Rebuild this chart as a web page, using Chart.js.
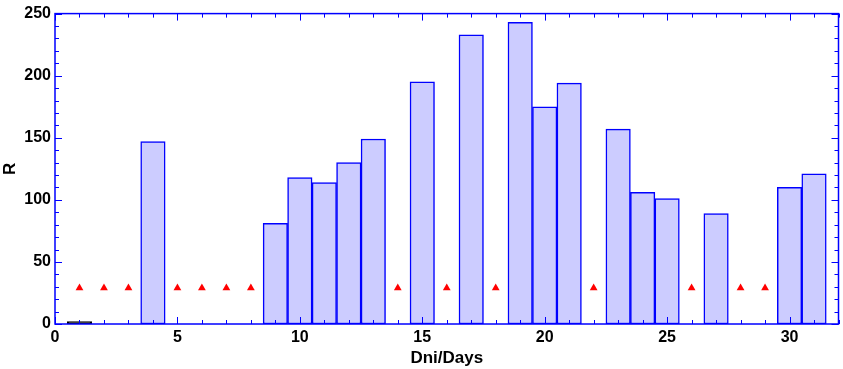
<!DOCTYPE html>
<html>
<head>
<meta charset="utf-8">
<script src="https://cdn.jsdelivr.net/npm/chart.js@4.4.1/dist/chart.umd.min.js"></script>
<style>
  html, body { margin: 0; padding: 0; background: #fff; }
  #wrap { width: 843px; height: 369px; }
</style>
</head>
<body>
<div id="wrap"><canvas id="myChart" width="843" height="369"></canvas></div>
<script>
// data
const days = [1, 2, 3, 4, 5, 6, 7, 8, 9, 10, 11, 12, 13, 14, 15, 16,
  17, 18, 19, 20, 21, 22, 23, 24, 25, 26, 27, 28, 29, 30, 31];
const rValues = [2, null, null, 147, null, null, null, null, 81, 118, 114, 130, 149, null, 195, null,
  233, null, 243, 175, 194, null, 157, 106, 101, null, 89, null, null, 110, 121];
const markerDays = [1, 2, 3, 5, 6, 7, 8, 14, 16, 18, 22, 26, 28, 29];
const markerLevel = 29;
const xTicks = [0, 5, 10, 15, 20, 25, 30];
const yTicks = [0, 50, 100, 150, 200, 250];

const ctx = document.getElementById('myChart');
const blue = '#0000ff';

const barData = [];
days.forEach((d, i) => {
    if (rValues[i] !== null) barData.push({ x: d, y: rValues[i] });
});
const markerData = markerDays.map(d => ({ x: d, y: markerLevel }));

// frame + inside ticks
const frameTicks = {
    id: 'frameTicks',
    afterDraw(chart) {
        const c = chart.ctx;
        const a = chart.chartArea;
        const xs = chart.scales.x, ys = chart.scales.y;
        c.save();
        c.strokeStyle = blue;
        c.lineWidth = 1;
        for (let v = 0; v <= 32; v++) {
            const px = Math.round(xs.getPixelForValue(v)) + 0.5;
            const len = v % 5 === 0 ? 7 : 4;
            c.beginPath();
            c.moveTo(px, a.bottom); c.lineTo(px, a.bottom - len);
            c.moveTo(px, a.top); c.lineTo(px, a.top + len);
            c.stroke();
        }
        for (let v = 0; v <= 250; v += 10) {
            const py = Math.round(ys.getPixelForValue(v)) + 0.5;
            const len = v % 50 === 0 ? 7 : 4;
            c.beginPath();
            c.moveTo(a.left, py); c.lineTo(a.left + len, py);
            c.moveTo(a.right, py); c.lineTo(a.right - len, py);
            c.stroke();
        }
        c.lineWidth = 1.5;
        c.strokeRect(a.left, a.top, a.right - a.left, a.bottom - a.top);
        c.restore();
    }
};

new Chart(ctx, {
    type: 'bar',
    data: {
        datasets: [{
            type: 'scatter',
            data: markerData,
            pointStyle: 'triangle',
            pointRadius: 4.5,
            backgroundColor: '#ff0000',
            borderColor: '#ff0000',
            borderWidth: 0,
            showLine: false,
            order: 0
        }, {
            type: 'bar',
            data: barData,
            backgroundColor: barData.map(p => p.y <= 2 ? '#000000' : '#ccccff'),
            borderColor: barData.map(p => p.y <= 2 ? '#000000' : blue),
            borderWidth: 1.5,
            borderSkipped: false,
            barPercentage: 1,
            categoryPercentage: 1,
            order: 1
        }]
    },
    options: {
        responsive: false,
        animation: false,
        layout: { padding: { top: 12, right: 1, left: 0, bottom: 0 } },
        plugins: { legend: { display: false }, tooltip: { enabled: false } },
        scales: {
            x: {
                type: 'linear',
                min: 0,
                max: 32,
                offset: false,
                grid: { display: false, drawTicks: false, offset: false },
                border: { display: false },
                afterBuildTicks: s => { s.ticks = xTicks.map(v => ({ value: v })); },
                afterFit: s => { s.height = 45; },
                ticks: {
                    padding: 4,
                    color: '#000',
                    font: { family: 'Liberation Sans', size: 16, weight: 'bold' }
                },
                title: {
                    display: true,
                    text: 'Dni/Days',
                    color: '#000',
                    padding: { top: 0, bottom: 0 },
                    font: { family: 'Liberation Sans', size: 17, weight: 'bold' }
                }
            },
            y: {
                min: 0,
                max: 250,
                grid: { display: false, drawTicks: false },
                border: { display: false },
                afterBuildTicks: s => { s.ticks = yTicks.map(v => ({ value: v })); },
                afterFit: s => { s.width = 55; },
                ticks: {
                    padding: 4,
                    color: '#000',
                    font: { family: 'Liberation Sans', size: 16, weight: 'bold' }
                },
                title: {
                    display: true,
                    text: 'R',
                    color: '#000',
                    padding: 0,
                    font: { family: 'Liberation Sans', size: 17, weight: 'bold' }
                }
            }
        }
    },
    plugins: [frameTicks]
});
</script>
</body>
</html>
